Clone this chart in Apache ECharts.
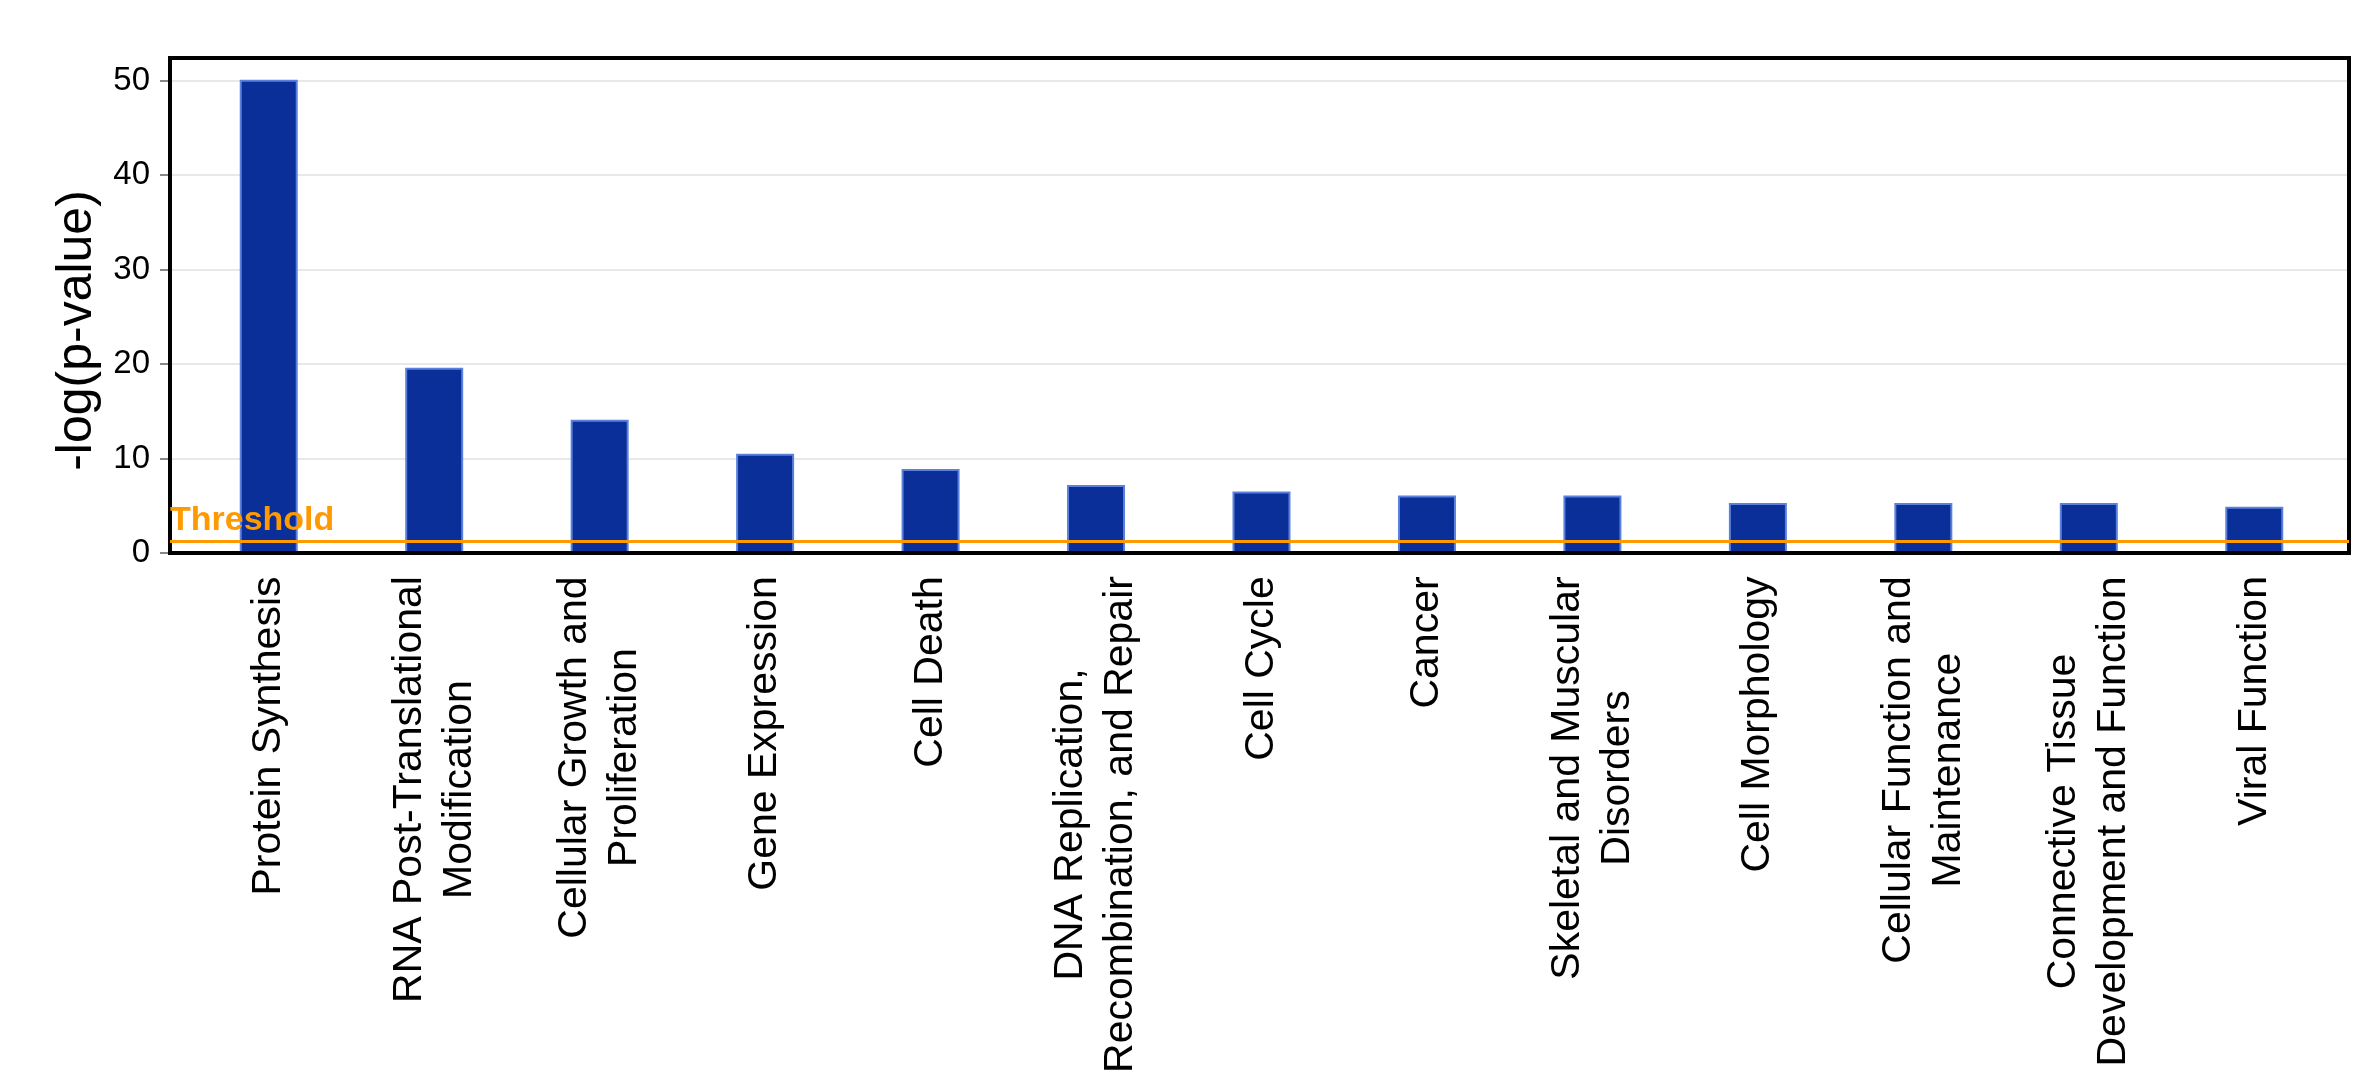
<!DOCTYPE html>
<html>
<head>
<meta charset="utf-8">
<script src="https://cdn.jsdelivr.net/npm/echarts@6/dist/echarts.min.js"></script>
<style>
  html, body { margin: 0; padding: 0; background: #fff; }
  #chart { width: 2354px; height: 1088px; }
</style>
</head>
<body>
<div id="chart"></div>
<script>
// categories (line breaks as in the original figure)
var categories = [
    'Protein Synthesis',
    'RNA Post-Translational\nModification',
    'Cellular Growth and\nProliferation',
    'Gene Expression',
    'Cell Death',
    'DNA Replication,\nRecombination, and Repair',
    'Cell Cycle',
    'Cancer',
    'Skeletal and Muscular\nDisorders',
    'Cell Morphology',
    'Cellular Function and\nMaintenance',
    'Connective Tissue\nDevelopment and Function',
    'Viral Function'
];
// -log(p-value)
var values = [50.1, 19.6, 14.1, 10.5, 8.9, 7.2, 6.5, 6.1, 6.1, 5.3, 5.3, 5.3, 4.9];
var threshold = 1.2;
var yMin = 0;
var yMax = 52.4;
var yStep = 10;

var FONT = '"Liberation Sans", Arial, sans-serif';
var labelSize = 41;

// width of the longest line of each label, so the lines can be centred on each other
var ctx = document.createElement('canvas').getContext('2d');
ctx.font = labelSize + 'px ' + FONT;
var rich = {};
categories.forEach(function (c, i) {
    var w = 0;
    c.split('\n').forEach(function (line) {
        w = Math.max(w, ctx.measureText(line).width);
    });
    rich['r' + i] = { width: Math.ceil(w) + 2, align: 'center', fontSize: labelSize, lineHeight: 50, color: '#000', fontFamily: FONT };
});

var chart = echarts.init(document.getElementById('chart'));
chart.setOption({
    backgroundColor: '#fff',
    animation: false,
    grid: [
        // frame with the y axis and the threshold
        { left: 170, top: 58, width: 2179, height: 495, show: true, borderColor: '#000', borderWidth: 4, z: 4, outerBoundsMode: 'none', containLabel: false },
        // bars
        { left: 186, top: 58, width: 2151, height: 495, outerBoundsMode: 'none', containLabel: false }
    ],
    xAxis: [
        { type: 'value', gridIndex: 0, min: 0, max: 1, show: false },
        {
            type: 'category', gridIndex: 1, data: categories,
            axisLine: { show: false }, axisTick: { show: false },
            axisLabel: {
                interval: 0, rotate: 90, margin: 22,
                formatter: function (v, i) {
                    return v.split('\n').map(function (l) { return '{r' + i + '|' + l + '}'; }).join('\n');
                },
                rich: rich
            }
        }
    ],
    yAxis: [
        {
            type: 'value', gridIndex: 0, min: yMin, max: yMax, interval: yStep,
            name: '-log(p-value)', nameLocation: 'middle', nameGap: 68,
            nameTextStyle: { fontSize: 50, color: '#000', fontFamily: FONT, padding: [0, 50, 0, 0] },
            axisLine: { show: false },
            axisTick: { show: true, length: 10, lineStyle: { color: '#888', width: 2 } },
            axisLabel: { fontSize: 33, color: '#000', fontFamily: FONT, margin: 20, showMaxLabel: false },
            splitLine: { lineStyle: { color: '#e8e8e8', width: 2 } }
        },
        { type: 'value', gridIndex: 1, min: yMin, max: yMax, interval: yStep, show: false, splitLine: { show: false } }
    ],
    series: [
        {
            type: 'bar', xAxisIndex: 1, yAxisIndex: 1, data: values, barWidth: 58, z: 2,
            itemStyle: { color: '#0a2f98', borderColor: '#5a82dc', borderWidth: 2 }
        },
        {
            type: 'line', xAxisIndex: 0, yAxisIndex: 0, data: [], z: 6,
            markLine: {
                silent: true, symbol: 'none',
                lineStyle: { color: '#ff9900', width: 3, type: 'solid' },
                label: {
                    show: true, position: 'insideStartTop', formatter: 'Threshold',
                    color: '#ff9900', fontSize: 34, fontWeight: 'bold', fontFamily: FONT, distance: [0, 4]
                },
                data: [{ yAxis: threshold }]
            }
        }
    ]
});
</script>
</body>
</html>
